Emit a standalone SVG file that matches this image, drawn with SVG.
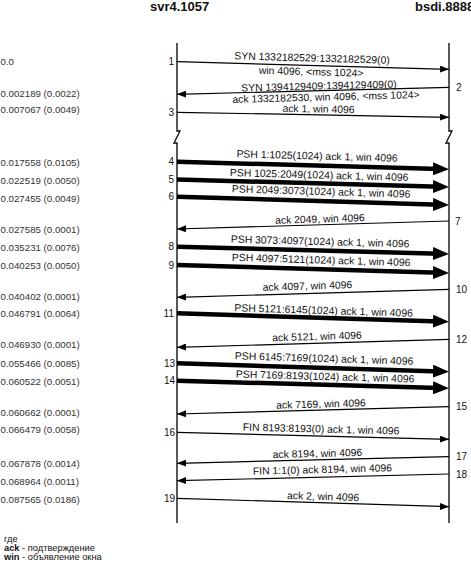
<svg xmlns="http://www.w3.org/2000/svg" width="471" height="568" viewBox="0 0 471 568">
<defs>
<style>
text{font-family:"Liberation Sans",Arial,sans-serif;fill:#111}
.title{font-size:13px;font-weight:bold}
.lbl{font-size:10.4px;text-anchor:middle}
.num{font-size:10px}
.numl{font-size:10px;text-anchor:end}
.time{font-size:9.7px;fill:#333}
.leg{font-size:9.3px}
.life{fill:none;stroke:#000;stroke-width:1.3}
.thin{fill:none;stroke:#000;stroke-width:1.2;marker-end:url(#ah)}
.thick{fill:none;stroke:#000;stroke-width:4.5;marker-end:url(#ahb)}
</style>
<marker id="ah" markerUnits="userSpaceOnUse" markerWidth="9" markerHeight="7" viewBox="0 0 9 7" refX="9" refY="3.5" orient="auto"><path d="M0,0 L9,3.5 L0,7 z" fill="#000"/></marker>
<marker id="ahb" markerUnits="userSpaceOnUse" markerWidth="16" markerHeight="13" viewBox="0 0 16 13" refX="7" refY="6.5" orient="auto"><path d="M0,0 L16,6.5 L0,13 z" fill="#000"/></marker>
</defs>
<rect width="471" height="568" fill="#fff"/>

<g id="svr4">
<text class="title" x="150" y="10.5">svr4.1057</text>
<path class="life" d="M177,43 V131 H180 L174,143 H177 V523"/>
</g>
<g id="bsdi">
<text class="title" x="415" y="10.5">bsdi.8888</text>
<path class="life" d="M449,43 V131 H452 L446,143 H449 V523"/>
</g>

<g id="connectors">
<line class="thin" x1="177" y1="61.7" x2="449" y2="69.3"/>
<line class="thin" x1="449" y1="87.3" x2="177" y2="94.3"/>
<line class="thin" x1="177" y1="112.3" x2="449" y2="117.3"/>
<line class="thick" x1="177" y1="161.7" x2="440" y2="169.05"/>
<line class="thick" x1="177" y1="179.5" x2="440" y2="186.75"/>
<line class="thick" x1="177" y1="196.7" x2="440" y2="204.7"/>
<line class="thin" x1="449" y1="221" x2="177" y2="229"/>
<line class="thick" x1="177" y1="246.7" x2="440" y2="253.76"/>
<line class="thick" x1="177" y1="265" x2="440" y2="272.7"/>
<line class="thin" x1="449" y1="289.3" x2="177" y2="297.3"/>
<line class="thick" x1="177" y1="313.3" x2="440" y2="321.4"/>
<line class="thin" x1="449" y1="339.3" x2="177" y2="347.3"/>
<line class="thick" x1="177" y1="363.3" x2="440" y2="371.4"/>
<line class="thick" x1="177" y1="380.7" x2="440" y2="388.05"/>
<line class="thin" x1="449" y1="406.7" x2="177" y2="414"/>
<line class="thin" x1="177" y1="432.3" x2="449" y2="439.3"/>
<line class="thin" x1="449" y1="456.7" x2="177" y2="463.3"/>
<line class="thin" x1="449" y1="474" x2="177" y2="480.7"/>
<line class="thin" x1="177" y1="498.3" x2="449" y2="506.7"/>

<text class="lbl" x="312" y="61.5" transform="rotate(1.6 312 61.5)">SYN 1332182529:1332182529(0)</text>
<text class="lbl" x="311" y="75.3" transform="rotate(1.6 311 75.3)">win 4096, &lt;mss 1024&gt;</text>
<text class="lbl" x="319" y="89.5" transform="rotate(-1.47 319 89.5)">SYN 1394129409:1394129409(0)</text>
<text class="lbl" x="326" y="100.5" transform="rotate(-1.47 326 100.5)">ack 1332182530, win 4096, &lt;mss 1024&gt;</text>
<text class="lbl" x="318.5" y="112.5" transform="rotate(1.05 318.5 112.5)">ack 1, win 4096</text>
<text class="lbl" x="317" y="159.5" transform="rotate(1.6 317 159.5)">PSH 1:1025(1024) ack 1, win 4096</text>
<text class="lbl" x="319" y="178.5" transform="rotate(1.58 319 178.5)">PSH 1025:2049(1024) ack 1, win 4096</text>
<text class="lbl" x="321" y="195" transform="rotate(1.75 321 195)">PSH 2049:3073(1024) ack 1, win 4096</text>
<text class="lbl" x="320" y="222.5" transform="rotate(-1.68 320 222.5)">ack 2049, win 4096</text>
<text class="lbl" x="320" y="245" transform="rotate(1.54 320 245)">PSH 3073:4097(1024) ack 1, win 4096</text>
<text class="lbl" x="321" y="263.5" transform="rotate(1.68 321 263.5)">PSH 4097:5121(1024) ack 1, win 4096</text>
<text class="lbl" x="307.5" y="289.5" transform="rotate(-1.68 307.5 289.5)">ack 4097, win 4096</text>
<text class="lbl" x="323.5" y="314" transform="rotate(1.77 323.5 314)">PSH 5121:6145(1024) ack 1, win 4096</text>
<text class="lbl" x="317" y="340" transform="rotate(-1.68 317 340)">ack 5121, win 4096</text>
<text class="lbl" x="324" y="362" transform="rotate(1.77 324 362)">PSH 6145:7169(1024) ack 1, win 4096</text>
<text class="lbl" x="325" y="380" transform="rotate(1.6 325 380)">PSH 7169:8193(1024) ack 1, win 4096</text>
<text class="lbl" x="321" y="407.5" transform="rotate(-1.54 321 407.5)">ack 7169, win 4096</text>
<text class="lbl" x="321" y="432.5" transform="rotate(1.47 321 432.5)">FIN 8193:8193(0) ack 1, win 4096</text>
<text class="lbl" x="317.5" y="457" transform="rotate(-1.39 317.5 457)">ack 8194, win 4096</text>
<text class="lbl" x="322.5" y="473" transform="rotate(-1.41 322.5 473)">FIN 1:1(0) ack 8194, win 4096</text>
<text class="lbl" x="323" y="500" transform="rotate(1.77 323 500)">ack 2, win 4096</text>
</g>

<g id="segment-numbers">
<text class="numl" x="174" y="65.2">1</text>
<text class="num" x="456" y="90.8">2</text>
<text class="numl" x="174" y="115.8">3</text>
<text class="numl" x="174" y="165.2">4</text>
<text class="numl" x="174" y="183">5</text>
<text class="numl" x="174" y="200.2">6</text>
<text class="num" x="455" y="224.5">7</text>
<text class="numl" x="174" y="250.2">8</text>
<text class="numl" x="174" y="268.5">9</text>
<text class="num" x="456" y="292.8">10</text>
<text class="numl" x="174" y="316.8">11</text>
<text class="num" x="456" y="342.8">12</text>
<text class="numl" x="175" y="366.8">13</text>
<text class="numl" x="175" y="384.2">14</text>
<text class="num" x="456" y="410.2">15</text>
<text class="numl" x="175" y="435.8">16</text>
<text class="num" x="456" y="460.2">17</text>
<text class="num" x="456" y="477.5">18</text>
<text class="numl" x="175" y="501.8">19</text>
</g>

<g id="times">
<text class="time" x="0.5" y="65.4">0.0</text>
<text class="time" x="0.5" y="97.4">0.002189 (0.0022)</text>
<text class="time" x="0.5" y="113.4">0.007067 (0.0049)</text>
<text class="time" x="0.5" y="166.1">0.017558 (0.0105)</text>
<text class="time" x="0.5" y="184.1">0.022519 (0.0050)</text>
<text class="time" x="0.5" y="201.7">0.027455 (0.0049)</text>
<text class="time" x="0.5" y="232.7">0.027585 (0.0001)</text>
<text class="time" x="0.5" y="250.7">0.035231 (0.0076)</text>
<text class="time" x="0.5" y="269.1">0.040253 (0.0050)</text>
<text class="time" x="0.5" y="300.1">0.040402 (0.0001)</text>
<text class="time" x="0.5" y="317.4">0.046791 (0.0064)</text>
<text class="time" x="0.5" y="348.4">0.046930 (0.0001)</text>
<text class="time" x="0.5" y="366.7">0.055466 (0.0085)</text>
<text class="time" x="0.5" y="385.1">0.060522 (0.0051)</text>
<text class="time" x="0.5" y="415.7">0.060662 (0.0001)</text>
<text class="time" x="0.5" y="432.7">0.066479 (0.0058)</text>
<text class="time" x="0.5" y="466.7">0.067878 (0.0014)</text>
<text class="time" x="0.5" y="485.4">0.068964 (0.0011)</text>
<text class="time" x="0.5" y="503.4">0.087565 (0.0186)</text>
</g>

<g id="legend">
<text class="leg" x="4" y="541.5">где</text>
<text class="leg" x="4" y="550.8"><tspan font-weight="bold">ack</tspan> - подтверждение</text>
<text class="leg" x="4" y="560.1"><tspan font-weight="bold">win</tspan> - объявление окна</text>
</g>
</svg>
